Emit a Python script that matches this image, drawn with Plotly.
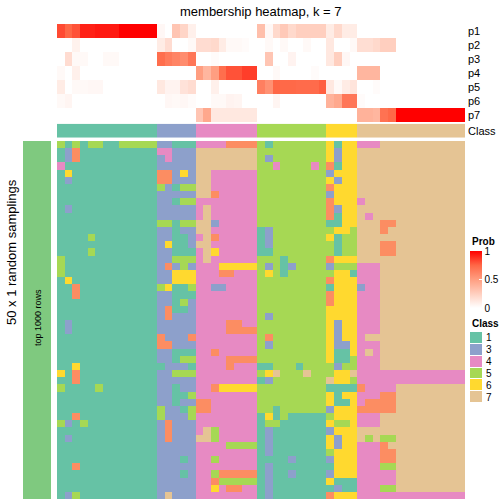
import plotly.graph_objects as go

W, H = 504, 504
FONT = "Liberation Sans, Arial, sans-serif"

title_text = "membership heatmap, k = 7"
left_title = "50 x 1 random samplings"
bar_label = "top 1000 rows"
prob_labels = ["p1", "p2", "p3", "p4", "p5", "p6", "p7"]
class_bar_label = "Class"
class_legend_codes = [1, 3, 4, 5, 6, 7]
class_legend_labels = ["1", "3", "4", "5", "6", "7"]
class_colors = ["#66C2A5", "#FC8D62", "#8DA0CB", "#E78AC3", "#A6D854", "#FFD92F", "#E5C494"]
prob_tickvals = [0, 0.5, 1]
prob_ticktext = ["0", "0.5", "1"]

column_class = [1, 1, 1, 1, 1, 1, 1, 1, 1, 1, 1, 1, 1,
                3, 3, 3, 3, 3,
                4, 4, 4, 4, 4, 4, 4, 4,
                5, 5, 5, 5, 5, 5, 5, 5, 5,
                6, 6, 6, 6,
                7, 7, 7, 7, 7, 7, 7, 7, 7, 7, 7, 7, 7, 7]

p1 = [0.82, 0.75, 0.8, 0.92, 0.92, 0.94, 0.94, 0.94, 1, 1, 1, 1, 1,
      0.04, 0, 0.3, 0.22, 0.08,
      0, 0, 0, 0, 0, 0, 0, 0,
      0.33, 0.04, 0.2, 0.28, 0.2, 0.25, 0.25, 0.25, 0.25,
      0.1, 0.2, 0.1, 0.1,
      0, 0, 0, 0, 0, 0, 0, 0, 0, 0, 0, 0, 0, 0]
p2 = [0, 0, 0.07, 0, 0, 0, 0, 0, 0, 0, 0, 0, 0,
      0.1, 0.18, 0, 0, 0.03,
      0.18, 0.18, 0.2, 0.1, 0.03, 0.03, 0.02, 0,
      0, 0.03, 0, 0.03, 0, 0, 0.03, 0, 0,
      0.12, 0, 0, 0.03,
      0.17, 0.17, 0.2, 0.25, 0.25, 0, 0, 0, 0, 0, 0, 0, 0, 0]
p3 = [0, 0.18, 0.03, 0.03, 0, 0, 0.03, 0.03, 0, 0, 0, 0, 0,
      0.72, 0.66, 0.62, 0.58, 0.68,
      0, 0, 0.02, 0, 0, 0, 0, 0,
      0, 0.3, 0, 0, 0.06, 0, 0, 0, 0,
      0.12, 0.25, 0.04, 0,
      0, 0, 0, 0, 0, 0, 0, 0, 0, 0, 0, 0, 0, 0]
p4 = [0.03, 0, 0.08, 0, 0, 0, 0, 0, 0, 0, 0, 0, 0,
      0, 0, 0, 0, 0,
      0.5, 0.38, 0.5, 0.72, 0.8, 0.8, 0.85, 0.85,
      0, 0, 0.03, 0, 0, 0, 0, 0.02, 0,
      0, 0, 0, 0,
      0.38, 0.38, 0.38, 0, 0, 0, 0, 0, 0, 0, 0, 0, 0, 0]
p5 = [0.1, 0, 0.03, 0.03, 0.04, 0.04, 0, 0, 0, 0, 0, 0, 0,
      0.12, 0.06, 0.06, 0.15, 0.18,
      0, 0, 0.08, 0, 0, 0, 0, 0,
      0.64, 0.56, 0.75, 0.74, 0.74, 0.73, 0.73, 0.73, 0.77,
      0.12, 0.03, 0.1, 0.14,
      0, 0, 0.02, 0, 0, 0, 0, 0, 0, 0, 0, 0, 0, 0]
p6 = [0.03, 0.05, 0, 0, 0, 0, 0, 0, 0, 0, 0, 0, 0,
      0, 0.04, 0.03, 0.04, 0.02,
      0, 0, 0.03, 0.03, 0.06, 0.05, 0, 0,
      0, 0, 0.05, 0, 0, 0, 0, 0, 0,
      0.4, 0.45, 0.68, 0.68,
      0.02, 0, 0, 0, 0, 0, 0, 0, 0, 0, 0, 0, 0, 0]
p7 = [0, 0, 0, 0, 0, 0, 0, 0, 0, 0, 0, 0, 0,
      0, 0, 0, 0, 0,
      0.3, 0.45, 0.12, 0.12, 0.12, 0.12, 0.12, 0.12,
      0, 0, 0, 0, 0, 0, 0, 0, 0,
      0, 0, 0, 0,
      0.4, 0.4, 0.38, 0.7, 0.74, 1, 1, 1, 1, 1, 1, 1, 1, 1]

# class assignment of each sample (column) in each of the 50 random samplings (rows)
sampling_rows = [
    "5151551155555 33111 44442222 515555555 6166 44477777777777",
    "1321111111111 44333 77777777 555555555 6366 77777777777777",
    "1321111111111 34333 77777777 535555555 6366 77777777777777",
    "4111111111111 33333 77777777 554555545 2166 77777777777777",
    "1611111111111 22363 77444444 555555555 3666 77777777777777",
    "1311111111111 22333 77444444 555555555 6366 77777777777777",
    "1111111111111 53155 77444444 555555555 2666 77777777777777",
    "1111111111111 33333 77244444 555555555 3666 77777777777777",
    "1111111111111 33155 44444444 555555555 2666 47777777777777",
    "1311111111111 33333 47444444 555555555 2366 77777777777777",
    "1111111111111 33333 47444444 555555555 2166 74777777777777",
    "1111111111111 55155 77344444 555555555 1166 77722777777777",
    "1111111111111 33133 77444444 135555555 5665 77727777777777",
    "1111511111111 33113 47244444 135555555 6155 77777777777777",
    "1111111111111 36113 77444444 135555555 5155 77722777777777",
    "1111511111111 33111 47644444 115555555 5155 77722777777777",
    "5111111111111 33555 47444444 555155555 2666 77777777777777",
    "5111111111111 32353 44466666 535135555 3555 44477777777777",
    "5111111111111 33666 44422444 565155555 5661 44477777777777",
    "1611111111111 33666 44444444 555555555 2666 44477777777777",
    "1121111111111 56115 44334444 555555555 1666 34477777777777",
    "1121111111111 33111 44444444 555555555 2666 44477777777777",
    "1111111111111 33153 44444444 555555555 2666 44477777777777",
    "1111111111111 32113 44444444 555555555 6666 44477777777777",
    "1111111111111 32333 44444444 535555555 6666 44477777777777",
    "1311111111111 33333 44442244 555555555 6366 44477777777777",
    "1311111111111 33333 44442222 555555555 6366 44477777777777",
    "1111111111111 23332 44444444 525555555 6366 47777777777777",
    "1111111111111 22333 44444444 535555555 6336 44477777777777",
    "1111111111111 33111 44244444 555555555 6116 47477777777777",
    "1111111111111 33155 44442222 555555555 6115 44477777777777",
    "1161111111111 13331 44442444 115551555 5355 44477777777777",
    "6121111111111 33555 44444444 567555755 5667 44444444444444",
    "1121111111111 33333 44444444 135555555 7665 44444444444444",
    "5111151111111 33133 44266666 555555555 1111 24444777777777",
    "1111111111111 33115 44444444 555555555 6166 44422777777777",
    "1111111111111 33133 22444444 555555555 6116 42222777777777",
    "1111111111111 53315 22444444 551555555 3666 22222777777777",
    "1121111111111 53335 44444444 161511111 5666 44477777777777",
    "5315111111111 32333 44444444 155111111 6556 44477777777777",
    "1111111111111 32333 47544444 131111111 3666 77777777777777",
    "1311111111111 32333 77544444 131111111 6366 75755777777777",
    "1111111111111 33333 44445555 131111111 6366 44427777777777",
    "1111111111111 33333 44444444 131111111 5666 44422777777777",
    "1111111111111 33313 44544444 111131111 3666 44422777777777",
    "1121111111111 33333 44444444 131111111 1666 44455777777777",
    "1111111111111 33313 44522222 131131111 3666 44444777777777",
    "1111111111111 33333 44255555 131111111 6111 44444777777777",
    "1111111111111 33333 44642244 131111111 1311 44455777777777",
    "1351111111111 37333 44444444 131111111 2666 44444444444444",
]

# ---------------------------------------------------------------------------
prob_matrix = [p1, p2, p3, p4, p5, p6, p7]
main_matrix = [[int(ch) for ch in r.replace(" ", "")] for r in sampling_rows]
ncol = len(column_class)
nrow = len(main_matrix)
cols = list(range(ncol))


def px(x):
    return x / W


def py(y):
    return 1 - y / H


# discrete colour scale for class codes 1..7
disc_cs = []
for k, c in enumerate(class_colors):
    disc_cs.append([k / 7, c])
    disc_cs.append([(k + 1) / 7, c])

# white -> red, interpolated in LAB like ComplexHeatmap's colorRamp2
prob_cs = [[0, "#FFFFFF"], [0.25, "#FFCFBF"], [0.5, "#FF9E81"], [0.75, "#FF6746"], [1, "#FF0000"]]

fig = go.Figure()

fig.add_trace(go.Heatmap(
    z=prob_matrix, x=cols, y=list(range(len(prob_labels))),
    colorscale=prob_cs, zmin=0, zmax=1, xaxis="x", yaxis="y",
    colorbar=dict(x=px(470), xanchor="left", xpad=0, y=py(251), yanchor="top", ypad=0,
                  len=57, lenmode="pixels", thickness=12, thicknessmode="pixels",
                  outlinewidth=0, tickvals=prob_tickvals, ticktext=prob_ticktext,
                  ticks="inside", ticklen=3, tickcolor="white",
                  tickfont=dict(size=10, family=FONT, color="black")),
))

fig.add_trace(go.Heatmap(
    z=[column_class], x=cols, y=[0], colorscale=disc_cs, zmin=0.5, zmax=7.5,
    showscale=False, xaxis="x2", yaxis="y2"))

fig.add_trace(go.Heatmap(
    z=main_matrix, x=cols, y=list(range(nrow)), colorscale=disc_cs, zmin=0.5, zmax=7.5,
    showscale=False, xaxis="x3", yaxis="y3"))

fig.add_trace(go.Heatmap(
    z=[[c] for c in class_legend_codes], x=[0], y=list(range(len(class_legend_codes))),
    colorscale=disc_cs, zmin=0.5, zmax=7.5, showscale=False, ygap=1,
    xaxis="x4", yaxis="y4"))

hx = [px(57), px(465)]
hidden = dict(visible=False, showgrid=False, zeroline=False, fixedrange=True, automargin=False)
lab_axis = dict(showgrid=False, zeroline=False, showline=False, ticks="", side="right",
                automargin=False,
                tickfont=dict(size=11, family=FONT, color="black"), ticklabelstandoff=2)

fig.update_layout(
    width=W, height=H, margin=dict(l=0, r=0, t=0, b=0, pad=0, autoexpand=False),
    paper_bgcolor="white", plot_bgcolor="white", showlegend=False,
    font=dict(family=FONT, color="black"),
    xaxis=dict(domain=hx, range=[-0.5, ncol - 0.5], anchor="y", **hidden),
    yaxis=dict(domain=[py(122), py(24)], range=[len(prob_labels) - 0.5, -0.5], anchor="x",
               tickvals=list(range(len(prob_labels))), ticktext=prob_labels, **lab_axis),
    xaxis2=dict(domain=hx, range=[-0.5, ncol - 0.5], anchor="y2", **hidden),
    yaxis2=dict(domain=[py(137.7), py(123.7)], range=[0.5, -0.5], anchor="x2",
                tickvals=[0], ticktext=[class_bar_label], **lab_axis),
    xaxis3=dict(domain=hx, range=[-0.5, ncol - 0.5], anchor="y3", **hidden),
    yaxis3=dict(domain=[py(499), py(141)], range=[nrow - 0.5, -0.5], anchor="x3", **hidden),
    xaxis4=dict(domain=[px(470), px(482)], range=[-0.5, 0.5], anchor="y4", **hidden),
    yaxis4=dict(domain=[py(403), py(332)], range=[len(class_legend_codes) - 0.5, -0.5],
                anchor="x4", tickvals=list(range(len(class_legend_codes))),
                ticktext=class_legend_labels, showgrid=False, zeroline=False, ticks="",
                side="right", automargin=False,
                tickfont=dict(size=10, family=FONT, color="black"),
                ticklabelstandoff=3),
)

fig.add_shape(type="rect", xref="paper", yref="paper", x0=px(23), x1=px(51),
              y0=py(499), y1=py(141), fillcolor="#7FC97F", line=dict(width=0), layer="below")

ann = [
    dict(text=title_text, x=px(261), y=py(11), size=13, angle=0, xa="center"),
    dict(text=left_title, x=px(11), y=py(252), size=13, angle=-90, xa="center"),
    dict(text=bar_label, x=px(38), y=py(318), size=9, angle=-90, xa="center"),
    dict(text="<b>Prob</b>", x=px(470), y=py(241), size=10, angle=0, xa="left"),
    dict(text="<b>Class</b>", x=px(470), y=py(323), size=10, angle=0, xa="left"),
]
for a in ann:
    fig.add_annotation(text=a["text"], x=a["x"], y=a["y"], xref="paper", yref="paper",
                       showarrow=False, textangle=a["angle"], xanchor=a["xa"], yanchor="middle",
                       font=dict(size=a["size"], family=FONT, color="black"))

fig.write_html("out.html", config={"displayModeBar": False, "staticPlot": True},
               post_script="document.body.style.margin='0';document.body.style.overflow='hidden';")
